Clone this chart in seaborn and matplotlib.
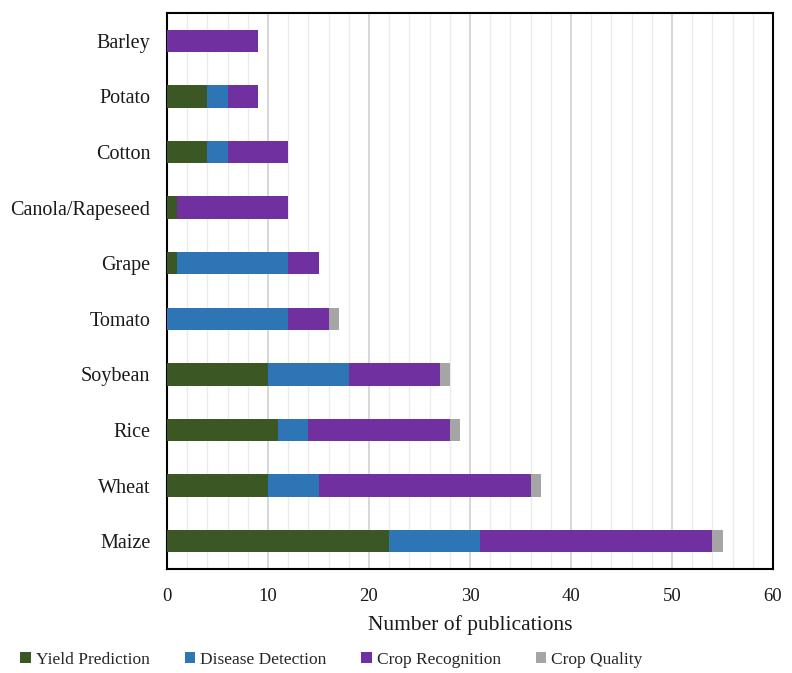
import matplotlib
matplotlib.use("Agg")
import matplotlib.pyplot as plt
import seaborn as sns
import pandas as pd
from matplotlib.patches import Patch
from matplotlib.ticker import MultipleLocator

sns.set_theme(style="white")
plt.rcParams['font.family'] = ['Liberation Serif', 'DejaVu Serif']

# data
crops = ['Barley', 'Potato', 'Cotton', 'Canola/Rapeseed', 'Grape',
         'Tomato', 'Soybean', 'Rice', 'Wheat', 'Maize']
yield_prediction = [0, 4, 4, 1, 1, 0, 10, 11, 10, 22]
disease_detection = [0, 2, 2, 0, 11, 12, 8, 3, 5, 9]
crop_recognition = [9, 3, 6, 11, 3, 4, 9, 14, 21, 23]
crop_quality = [0, 0, 0, 0, 0, 1, 1, 1, 1, 1]

series_names = ['Yield Prediction', 'Disease Detection', 'Crop Recognition', 'Crop Quality']
colors = ['#3A5724', '#2E75B6', '#7030A0', '#A5A5A5']

df = pd.DataFrame({'crop': crops,
                   'Yield Prediction': yield_prediction,
                   'Disease Detection': disease_detection,
                   'Crop Recognition': crop_recognition,
                   'Crop Quality': crop_quality})
cum = df[series_names].cumsum(axis=1)
cum['crop'] = df['crop']

fig = plt.figure(figsize=(7.92, 6.73), dpi=100)
ax = fig.add_axes([167 / 792, 1 - 569 / 673, (773 - 167) / 792, (569 - 13) / 673])

# stacked bars: draw cumulative totals from the outermost segment inward
for name, col in reversed(list(zip(series_names, colors))):
    sns.barplot(data=cum, x=name, y='crop', order=crops, color=col,
                width=0.4, linewidth=0, saturation=1, ax=ax, zorder=3)

ax.set_xlim(0, 60)
ax.xaxis.set_major_locator(MultipleLocator(10))
ax.xaxis.set_minor_locator(MultipleLocator(2))
ax.grid(which='minor', axis='x', color='#EBEBEB', linewidth=1, zorder=0)
ax.grid(which='major', axis='x', color='#D4D4D4', linewidth=1.3, zorder=0)
ax.set_axisbelow(True)

for s in ax.spines.values():
    s.set_visible(True)
    s.set_color('black')
    s.set_linewidth(1.5)

ax.tick_params(axis='both', which='both', length=0, colors='#1a1a1a')
ax.tick_params(axis='x', pad=14, labelsize=13.5)
ax.tick_params(axis='y', pad=12, labelsize=14.5)
ax.set_ylabel('')
ax.set_xlabel('Number of publications', fontsize=15.5, labelpad=7, color='#1a1a1a')

handles = [Patch(facecolor=c, edgecolor='none') for c in colors]
fig.legend(handles, series_names, loc='center left', bbox_to_anchor=(0.006, 1 - 660 / 673),
           ncol=4, frameon=False, fontsize=12.5, handlelength=0.6, handleheight=0.6,
           handletextpad=0.3, columnspacing=2.0)

fig.savefig('out.png', dpi=100)
